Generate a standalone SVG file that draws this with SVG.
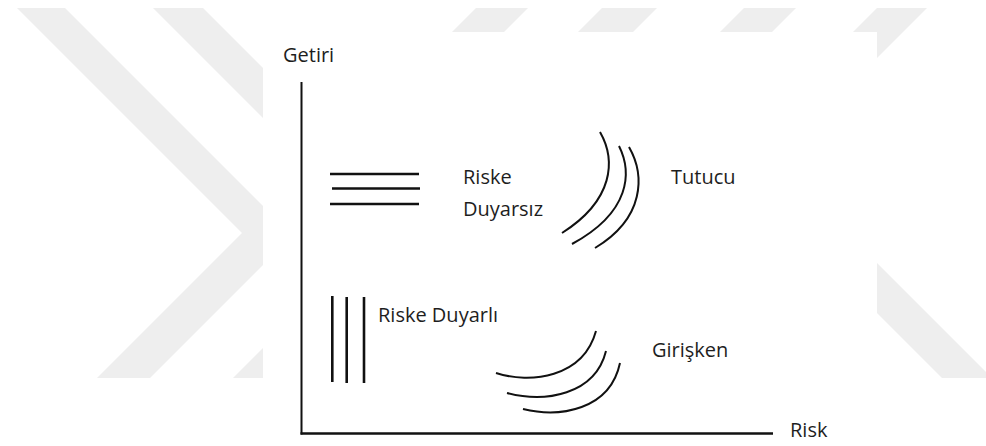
<svg xmlns="http://www.w3.org/2000/svg" width="986" height="446" viewBox="0 0 986 446">
<style>
.wm{fill:#eeeeee;stroke:none}
.ln{fill:none;stroke:#111;stroke-linecap:butt}
.th{stroke-width:2.6}
.arc{stroke-width:2}
.lbl{font-family:"Open Sans","Noto Sans",sans-serif;font-size:20px;fill:#1e1e1e}
</style>
<rect x="0" y="0" width="986" height="446" fill="#ffffff"/>
<g id="watermark">
<polygon class="wm" points="17,8 65,8 292.5,235.5 150,378 97,378 242,233"/>
<polygon class="wm" points="153,8 203,8 428,233 283,378 233,378 378,233"/>
<polygon class="wm" points="476,8 528,8 504,32 452,32"/>
<polygon class="wm" points="602,8 657,8 633,32 578,32"/>
<polygon class="wm" points="744,8 796,8 772,32 720,32"/>
<polygon class="wm" points="877,8 927,8 860,75 810,75"/>
<polygon class="wm" points="850,236 850,286 942,378 992,378"/>
</g>
<rect id="panel" x="263" y="32" width="614" height="414" fill="#ffffff"/>
<g id="axes">
<line class="ln" x1="301.5" y1="82" x2="301.5" y2="434.5" stroke-width="2"/>
<line class="ln" x1="300.5" y1="433.5" x2="773" y2="433.5" stroke-width="2.6"/>
<text class="lbl" x="283" y="62" font-size="21">Getiri</text>
<text class="lbl" x="790" y="437">Risk</text>
</g>
<g id="riske-duyarsiz">
<line class="ln th" x1="330" y1="174" x2="419" y2="174"/>
<line class="ln th" x1="332" y1="188.5" x2="420" y2="188.5"/>
<line class="ln th" x1="330" y1="204" x2="419" y2="204"/>
<text class="lbl" x="463" y="184">Riske</text>
<text class="lbl" x="463" y="216">Duyarsız</text>
</g>
<g id="tutucu">
<path class="ln arc" d="M600,132 C616,160 614,200 562,233"/>
<path class="ln arc" d="M619,146 C632,172 631,212 572,244"/>
<path class="ln arc" d="M629,147 C645,175 645,218 595,248"/>
<text class="lbl" x="671" y="184">Tutucu</text>
</g>
<g id="riske-duyarli">
<line class="ln th" x1="332.3" y1="296" x2="332.3" y2="382"/>
<line class="ln th" x1="346.7" y1="297" x2="346.7" y2="383"/>
<line class="ln th" x1="364" y1="297" x2="364" y2="383"/>
<text class="lbl" x="378" y="322">Riske Duyarlı</text>
</g>
<g id="giriskan">
<path class="ln arc" d="M496,373 C530,384 583,378 596,331"/>
<path class="ln arc" d="M507,393 C545,403 595,395 606,351"/>
<path class="ln arc" d="M523,409 C560,418 610,410 620,363"/>
<text class="lbl" x="652" y="357">Girişken</text>
</g>
</svg>
